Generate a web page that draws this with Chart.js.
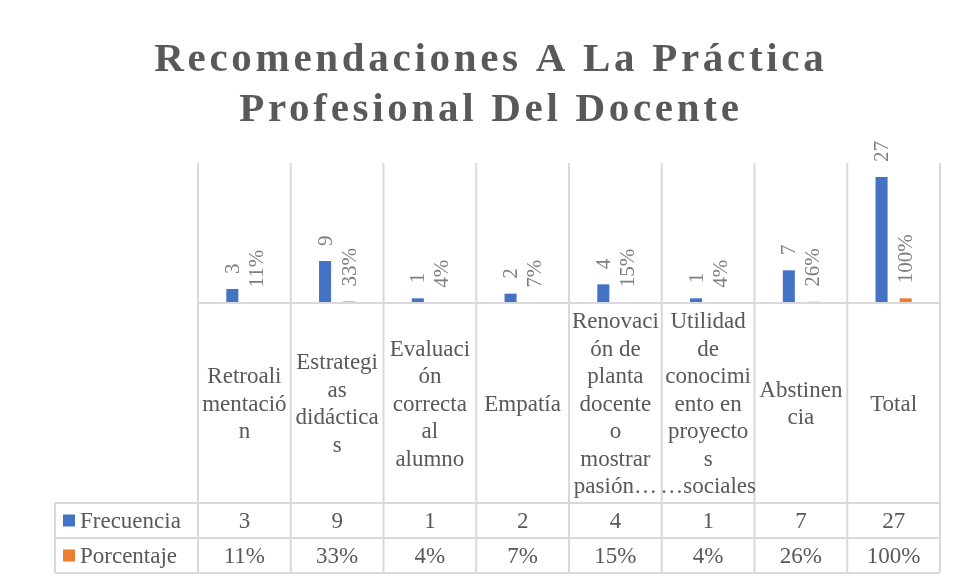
<!DOCTYPE html>
<html>
<head>
<meta charset="utf-8">
<script src="https://cdn.jsdelivr.net/npm/chart.js@4"></script>
<style>
  html, body { margin: 0; padding: 0; background: #fff; }
</style>
</head>
<body>
<canvas id="chart" width="956" height="579"></canvas>
<script>
// Chart data
const titleLines = ['Recomendaciones A La Práctica', 'Profesional Del Docente'];
const categories = [
    ['Retroali', 'mentació', 'n'],
    ['Estrategi', 'as', 'didáctica', 's'],
    ['Evaluaci', 'ón', 'correcta', 'al', 'alumno'],
    ['Empatía'],
    ['Renovaci', 'ón de', 'planta', 'docente', 'o', 'mostrar', 'pasión…'],
    ['Utilidad', 'de', 'conocimi', 'ento en', 'proyecto', 's', '…sociales'],
    ['Abstinen', 'cia'],
    ['Total']
];
const seriesNames = ['Frecuencia', 'Porcentaje'];
const frecuencia = [3, 9, 1, 2, 4, 1, 7, 27];
const porcentaje = [0.11, 0.33, 0.04, 0.07, 0.15, 0.04, 0.26, 1.00];

const BLUE = '#4472C4';
const ORANGE = '#ED7D31';
const GRID = '#d9d9d9';
const TEXT = '#595959';
const SERIF = '"Liberation Serif", "Times New Roman", serif';

function fmtValue(dsIndex, v) {
    return dsIndex === 1 ? Math.round(v * 100) + '%' : String(v);
}

// title with letter spacing (the built-in title can't do that)
const titlePlugin = {
    id: 'spacedTitle',
    afterDraw(chart) {
        const ctx = chart.ctx;
        ctx.save();
        ctx.font = 'bold 41px ' + SERIF;
        ctx.fillStyle = TEXT;
        ctx.textBaseline = 'alphabetic';
        ctx.textAlign = 'left';
        const spacing = 3.7;
        ctx.letterSpacing = spacing + 'px';
        titleLines.forEach((line, i) => {
            const w = ctx.measureText(line).width - spacing;
            ctx.fillText(line, 489 - w / 2, 71 + i * 50);
        });
        ctx.restore();
    }
};

// grid, category row and the data table under the plot
const tablePlugin = {
    id: 'dataTable',
    beforeDatasetsDraw(chart) {
        const { ctx, chartArea: a, scales: { x } } = chart;
        const step = x.getPixelForValue(1) - x.getPixelForValue(0);
        const tableLeft = 55;
        const rowTop = 503;
        const rowH = 35;
        const tableBottom = rowTop + rowH * seriesNames.length;

        ctx.save();
        ctx.strokeStyle = GRID;
        ctx.lineWidth = 2;
        ctx.beginPath();
        for (let i = 0; i <= categories.length; i++) {
            const px = x.getPixelForValue(0) - step / 2 + i * step;
            ctx.moveTo(px, a.top);
            ctx.lineTo(px, tableBottom);
        }
        for (let r = 0; r <= seriesNames.length; r++) {
            ctx.moveTo(tableLeft, rowTop + r * rowH);
            ctx.lineTo(a.right, rowTop + r * rowH);
        }
        ctx.moveTo(tableLeft, rowTop);
        ctx.lineTo(tableLeft, tableBottom);
        ctx.stroke();

        // category labels, centred in the cell under each column
        ctx.fillStyle = TEXT;
        ctx.font = '23px ' + SERIF;
        ctx.textAlign = 'center';
        ctx.textBaseline = 'middle';
        const midY = (a.bottom + rowTop) / 2 + 1.5;
        const lineH = 27.5;
        categories.forEach((lines, i) => {
            const cx = x.getPixelForValue(i);
            const y0 = midY - (lines.length - 1) * lineH / 2;
            lines.forEach((t, j) => ctx.fillText(t, cx, y0 + j * lineH));
        });

        // legend keys + values
        const series = [frecuencia, porcentaje];
        const colors = [BLUE, ORANGE];
        series.forEach((vals, r) => {
            const cy = rowTop + r * rowH + rowH / 2;
            ctx.fillStyle = colors[r];
            ctx.fillRect(63, cy - 6, 12, 12);
            ctx.fillStyle = TEXT;
            ctx.textAlign = 'left';
            ctx.fillText(seriesNames[r], 80, cy + 1);
            ctx.textAlign = 'center';
            vals.forEach((v, i) => ctx.fillText(fmtValue(r, v), x.getPixelForValue(i), cy + 1));
        });
        ctx.restore();
    },
    afterDatasetsDraw(chart) {
        const { ctx, chartArea: a } = chart;
        ctx.save();
        // axis line on top of the bars (hides the tiniest ones, like Excel)
        ctx.strokeStyle = GRID;
        ctx.lineWidth = 2;
        ctx.beginPath();
        ctx.moveTo(a.left, a.bottom);
        ctx.lineTo(a.right, a.bottom);
        ctx.stroke();

        // rotated value labels above each bar
        ctx.font = '21px ' + SERIF;
        ctx.fillStyle = '#7f7f7f';
        ctx.textAlign = 'left';
        ctx.textBaseline = 'middle';
        chart.data.datasets.forEach((ds, d) => {
            chart.getDatasetMeta(d).data.forEach((bar, i) => {
                ctx.save();
                ctx.translate(bar.x + 1, bar.y - 15);
                ctx.rotate(-Math.PI / 2);
                ctx.fillText(fmtValue(d, ds.data[i]), 0, 0);
                ctx.restore();
            });
        });
        ctx.restore();
    }
};

const ctx = document.getElementById('chart').getContext('2d');
const chart = new Chart(ctx, {
    type: 'bar',
    data: {
        labels: categories.map(c => c.join(' ')),
        datasets: [
            {
                label: seriesNames[0],
                data: frecuencia,
                backgroundColor: BLUE,
                categoryPercentage: 0.52,
                barPercentage: 0.5
            },
            {
                label: seriesNames[1],
                data: porcentaje,
                backgroundColor: ORANGE,
                categoryPercentage: 0.52,
                barPercentage: 0.5
            }
        ]
    },
    options: {
        responsive: false,
        animation: false,
        events: [],
        layout: {
            padding: { top: 163, left: 198, right: 16, bottom: 276 }
        },
        plugins: {
            legend: { display: false },
            title: { display: false },
            tooltip: { enabled: false }
        },
        scales: {
            x: { display: false },
            y: { display: false, min: 0, max: 30 }
        }
    },
    plugins: [tablePlugin, titlePlugin]
});
</script>
</body>
</html>
